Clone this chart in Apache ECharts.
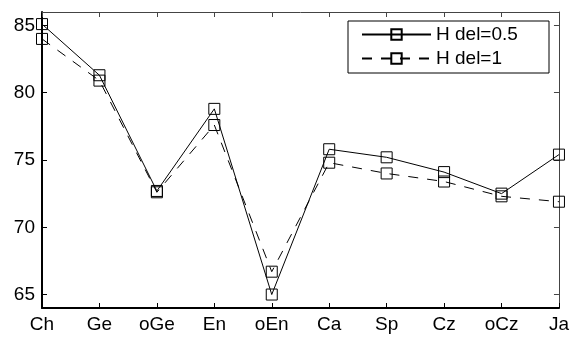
<!DOCTYPE html>
<html>
<head>
<meta charset="utf-8">
<script src="https://cdn.jsdelivr.net/npm/echarts@6/dist/echarts.min.js"></script>
<style>
  html, body { margin: 0; padding: 0; background: #fff; }
  #chart { width: 572px; height: 338px; }
</style>
</head>
<body>
<div id="chart"></div>
<script>
// data
const categories = ['Ch', 'Ge', 'oGe', 'En', 'oEn', 'Ca', 'Sp', 'Cz', 'oCz', 'Ja']
const hDel05 = [85.1, 81.3, 72.7, 78.8, 65.0, 75.8, 75.2, 74.1, 72.5, 75.4]
const hDel1 = [84.0, 80.9, 72.6, 77.6, 66.7, 74.8, 74.0, 73.4, 72.3, 71.9]
const yTicks = [65, 70, 75, 80, 85]

const font = 'Liberation Sans, Arial, sans-serif'
const chart = echarts.init(document.getElementById('chart'))

function makeSeries(name, data, dash) {
  return {
    name: name,
    type: 'line',
    data: data,
    symbol: 'rect',
    symbolSize: 11,
    showAllSymbol: true,
    lineStyle: { color: '#000', width: 1, type: dash },
    itemStyle: { color: 'transparent', borderColor: '#000', borderWidth: 1 },
    emphasis: { disabled: true }
  }
}

chart.setOption({
  animation: false,
  grid: { left: 42, right: 12, top: 12, bottom: 30 },
  legend: {
    orient: 'vertical',
    left: 348,
    top: 21,
    padding: [4, 7, 5, 13],
    itemGap: 5,
    itemWidth: 69,
    itemHeight: 13,
    backgroundColor: '#fff',
    borderColor: '#000',
    borderWidth: 1,
    borderRadius: 0,
    textStyle: { color: '#000', fontSize: 19, fontFamily: font, lineHeight: 18, width: 106 },
    data: ['H del=0.5', 'H del=1']
  },
  xAxis: [
    {
      type: 'category',
      data: categories,
      boundaryGap: false,
      position: 'bottom',
      axisLine: { lineStyle: { color: '#000', width: 2 } },
      axisTick: { inside: true, length: 5, lineStyle: { color: '#000' } },
      axisLabel: { color: '#000', fontSize: 19, fontFamily: font, margin: 7 },
      splitLine: { show: false }
    },
    {
      type: 'category',
      data: categories,
      boundaryGap: false,
      position: 'top',
      axisLine: { lineStyle: { color: '#444', width: 1 } },
      axisTick: { inside: true, length: 5, lineStyle: { color: '#444' } },
      axisLabel: { show: false },
      splitLine: { show: false }
    }
  ],
  yAxis: [
    {
      type: 'value',
      min: 64,
      max: 86,
      position: 'left',
      axisLine: { show: true, lineStyle: { color: '#000', width: 2 } },
      axisTick: { show: true, inside: true, length: 5, customValues: yTicks, lineStyle: { color: '#000' } },
      axisLabel: { color: '#000', fontSize: 19, fontFamily: font, margin: 7, customValues: yTicks },
      splitLine: { show: false }
    },
    {
      type: 'value',
      min: 64,
      max: 86,
      position: 'right',
      axisLine: { show: true, lineStyle: { color: '#444', width: 1 } },
      axisTick: { show: true, inside: true, length: 5, customValues: yTicks, lineStyle: { color: '#444' } },
      axisLabel: { show: false },
      splitLine: { show: false }
    }
  ],
  series: [
    makeSeries('H del=0.5', hDel05, 'solid'),
    makeSeries('H del=1', hDel1, [10, 9])
  ]
})
</script>
</body>
</html>
